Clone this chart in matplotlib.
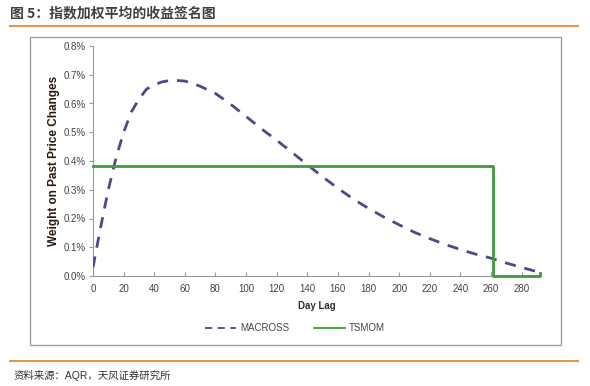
import matplotlib
matplotlib.use("Agg")
import matplotlib.pyplot as plt
from matplotlib.lines import Line2D
from matplotlib.patches import Rectangle
from matplotlib.ticker import FuncFormatter, MultipleLocator

plt.rcParams['font.family'] = ['Liberation Sans', 'Noto Sans CJK SC', 'DejaVu Sans']

# weights in percent
macross_lag = [0, 5, 10, 15, 20, 25, 30, 35, 40, 45, 50, 55, 60, 65, 70, 80, 90,
               100, 110, 120, 130, 140, 150, 160, 170, 180, 190, 200, 210, 220,
               230, 240, 250, 260, 270, 280, 292]
macross_w = [0.03, 0.17, 0.30, 0.41, 0.50, 0.57, 0.615, 0.65, 0.665, 0.675, 0.68,
             0.68, 0.678, 0.67, 0.66, 0.635, 0.597, 0.555, 0.512, 0.472, 0.43,
             0.387, 0.345, 0.305, 0.268, 0.235, 0.205, 0.178, 0.152, 0.13, 0.11,
             0.092, 0.076, 0.062, 0.045, 0.03, 0.012]
tsmom_lag = [0, 261, 261, 292, 292]
tsmom_w = [0.383, 0.383, 0.0, 0.0, 0.01]

title = "图 5：指数加权平均的收益签名图"
source = "资料来源：AQR，天风证券研究所"

W, H = 590, 386
fig = plt.figure(figsize=(W / 100, H / 100), dpi=100)
ax = fig.add_axes([93 / W, 1 - 276 / H, (540 - 93) / W, (276 - 46) / H])

ax.plot(macross_lag, macross_w, color="#4a4a8c", lw=2.0, dashes=(4, 3.2),
        label="MACROSS", zorder=3)
ax.plot(tsmom_lag, tsmom_w, color="#3f9a3a", lw=2.0, label="TSMOM",
        clip_on=False, zorder=4)

ax.set_xlim(0, 292)
ax.set_ylim(0, 0.8)
ax.xaxis.set_major_locator(MultipleLocator(20))
ax.yaxis.set_major_locator(MultipleLocator(0.1))
ax.yaxis.set_major_formatter(FuncFormatter(lambda v, p: f"{v:.1f}%"))
for s in ("top", "right"):
    ax.spines[s].set_visible(False)
for s in ("left", "bottom"):
    ax.spines[s].set_color("#999999")
    ax.spines[s].set_linewidth(0.8)
    ax.spines[s].set_zorder(1)
ax.tick_params(axis="y", direction="out", length=3, color="#999999",
               labelsize=7, labelcolor="#444444", pad=2)
ax.tick_params(axis="x", direction="in", length=3, color="#999999",
               labelsize=7, labelcolor="#444444", pad=6)
ax.set_xlabel("Day Lag", fontsize=7, fontweight="bold", color="#333333", labelpad=5)
ax.set_ylabel("Weight on Past Price Changes", fontsize=8.5, fontweight="bold",
              color="#2a1a10", labelpad=3)

handles = [Line2D([], [], color="#4a4a8c", lw=1.3, dashes=(4, 3)),
           Line2D([], [], color="#3f9a3a", lw=1.3)]
fig.legend(handles, ["MACROSS", "TSMOM"], loc="center", bbox_to_anchor=(0.5, 1 - 328 / H),
           ncol=2, frameon=False, fontsize=7, handlelength=3.2, columnspacing=2.5,
           handletextpad=0.4, labelcolor="#444444")

# chart frame
fig.patches.append(Rectangle((30 / W, 1 - 345 / H), (561 - 30) / W, (345 - 37) / H,
                             transform=fig.transFigure, fill=False,
                             edgecolor="#a0a0a0", lw=1.0))

# title and source with orange rules
fig.text(10 / W, 1 - 13 / H, title, fontsize=10, fontweight="bold", color="#404040",
         va="center", ha="left", family=['Noto Sans CJK SC', 'DejaVu Sans'])
fig.add_artist(Line2D([10 / W, 578 / W], [1 - 26 / H] * 2, color="#e0974a", lw=1.5,
                      transform=fig.transFigure))
fig.add_artist(Line2D([10 / W, 578 / W], [1 - 361 / H] * 2, color="#e0974a", lw=1.5,
                      transform=fig.transFigure))
fig.text(14 / W, 1 - 375 / H, source, fontsize=7.5, color="#333333", va="center",
         ha="left", family=['Liberation Sans', 'Noto Sans CJK SC', 'DejaVu Sans'])

fig.savefig("out.png", dpi=100)
